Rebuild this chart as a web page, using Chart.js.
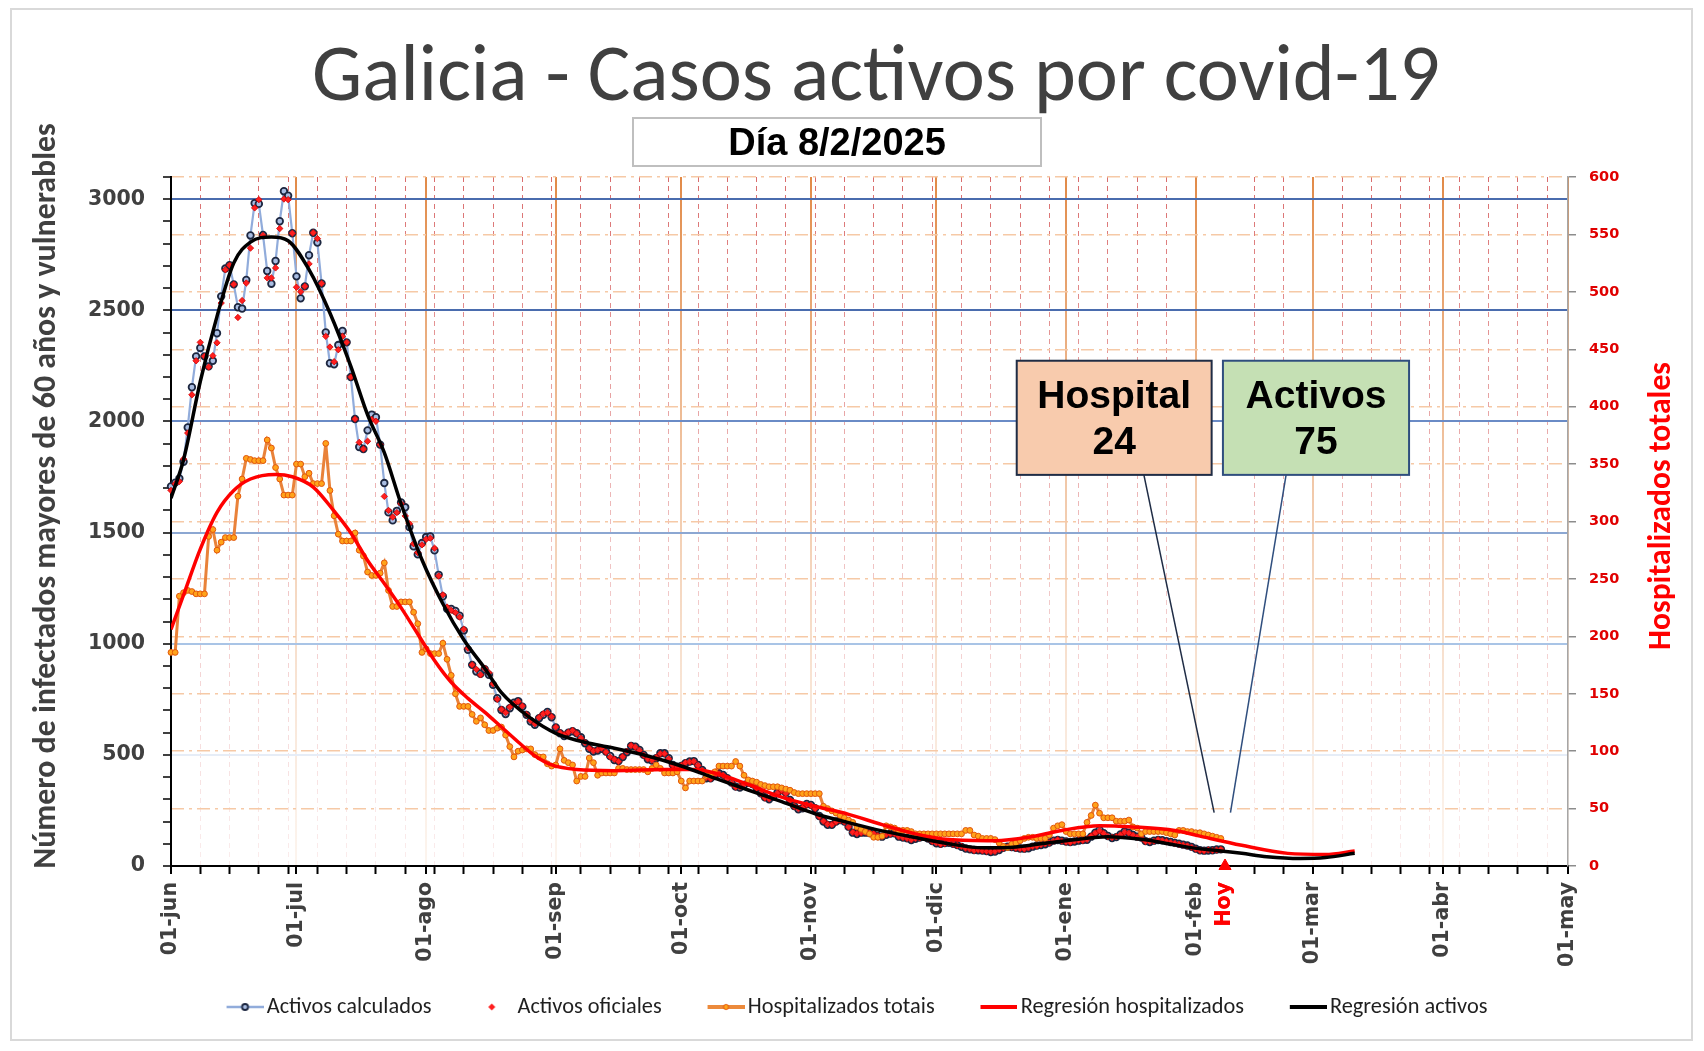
<!DOCTYPE html>
<html>
<head>
<meta charset="utf-8">
<title>Galicia - Casos activos por covid-19</title>
<script src="https://cdn.jsdelivr.net/npm/chart.js@4.4.1/dist/chart.umd.min.js"></script>
<style>
  html, body { margin: 0; padding: 0; background: #fff; }
  #wrap { width: 1704px; height: 1051px; }
</style>
</head>
<body>
<div id="wrap"><canvas id="grafico" width="1704" height="1051"></canvas></div>
<script>
// dias contados desde el 01-jun-2024
const mesesDias = [0, 30, 61, 92, 122, 153, 183, 214, 245, 273, 304, 334];
const mesesEtiquetas = ['01-jun', '01-jul', '01-ago', '01-sep', '01-oct', '01-nov', '01-dic', '01-ene', '01-feb', '01-mar', '01-abr', '01-may'];
const diaHoy = 252;
const hospitalHoy = 24;
const activosHoy = 75;
const pasoIzq = 100, maxIzq = 3100;
const pasoDer = 50, maxDer = 600;

const titulo = 'Galicia - Casos activos por covid-19';
const subtitulo = 'Día 8/2/2025';
const tituloIzq = 'Número de infectados mayores de 60 años y vulnerables';
const tituloDer = 'Hospitalizados totales';

// un valor por dia desde el 01-jun
const activosCalculados = [
  1708, 1725, 1744, 1819, 1973, 2154, 2293, 2331, 2293, 2248,
  2273, 2397, 2563, 2688, 2703, 2617, 2514, 2508, 2637, 2837,
  2982, 2979, 2839, 2677, 2620, 2722, 2901, 3036, 3016, 2847,
  2653, 2554, 2608, 2748, 2849, 2805, 2621, 2401, 2262, 2257,
  2344, 2407, 2356, 2200, 2011, 1885, 1876, 1960, 2031, 2019,
  1896, 1723, 1591, 1555, 1598, 1636, 1614, 1525, 1438, 1402,
  1453, 1480, 1483, 1420, 1310, 1213, 1157, 1157, 1148, 1126,
  1060, 973, 905, 875, 865, 885, 860, 815, 755, 702,
  684, 710, 735, 742, 717, 680, 650, 635, 665, 680,
  693, 669, 623, 597, 585, 600, 606, 597, 579, 552,
  527, 515, 520, 527, 515, 495, 477, 472, 490, 512,
  540, 537, 522, 500, 480, 474, 485, 507, 507, 485,
  455, 447, 450, 462, 470, 472, 455, 432, 395, 395,
  405, 417, 410, 395, 375, 357, 353, 365, 375, 369,
  353, 327, 309, 300, 312, 330, 342, 330, 297, 270,
  255, 260, 279, 275, 260, 225, 200, 185, 185, 200,
  207, 200, 177, 150, 144, 150, 150, 148, 142, 135,
  132, 140, 146, 147, 132, 128, 125, 117, 122, 128,
  132, 124, 112, 102, 100, 103, 104, 100, 94, 86,
  79, 75, 72, 71, 70, 67, 63, 65, 72, 82,
  87, 85, 82, 79, 78, 80, 87, 92, 94, 98,
  106, 114, 117, 114, 110, 108, 110, 114, 117, 118,
  132, 150, 162, 148, 135, 126, 130, 142, 155, 150,
  140, 132, 128, 112, 108, 114, 117, 116, 112, 108,
  104, 100, 96, 92, 86, 78, 71, 69, 70, 71,
  74, 75
];
const activosOficiales = [
  1690, 1720, 1730, 1831, 1948, 2120, 2273, 2356, 2293, 2245,
  2296, 2354, 2533, 2683, 2703, 2617, 2468, 2544, 2623, 2780,
  2961, 2998, 2837, 2646, 2646, 2691, 2868, 3001, 2998, 2847,
  2604, 2584, 2608, 2709, 2849, 2823, 2621, 2383, 2335, 2269,
  2323, 2383, 2356, 2200, 2011, 1906, 1876, 1911, 2009, 2001,
  1896, 1663, 1600, 1570, 1590, 1630, 1575, 1540, 1450, 1410,
  1445, 1470, 1475, 1430, 1305, 1220, 1165, 1150, 1140, 1120,
  1065, 980, 905, 885, 860, 890, 870, 820, 750, 705,
  690, 715, 730, 740, 720, 682, 655, 640, 668, 685,
  690, 672, 625, 600, 590, 602, 610, 595, 575, 555,
  530, 518, 522, 530, 512, 490, 480, 470, 492, 515,
  542, 535, 520, 498, 482, 476, 488, 505, 505, 482,
  452, 445, 452, 465, 468, 470, 452, 430, 398, 392,
  408, 415, 408, 392, 372, 355, 356, 368, 372, 366,
  350, 325, 306, 302, 315, 328, 340, 326, 295, 268,
  258, 262, 276, 272, 258, 222, 202, 188, 186, 198,
  205, 198, 175, 152, 146, 148, 152, 150, 146, 136,
  134, 142, 144, 145, 133, 128, 124, 118, 124, 126,
  130, 122, 110, 104, 98, 101, 105, 98, 92, 88,
  80, 76, 70, 72, 68, 66, 64, 66, 74, 80,
  86, 84, 80, 78, 76, 82, 88, 90, 96, 100,
  104, 112, 118, 112, 108, 106, 112, 116, 115, 120,
  135, 148, 158, 146, 132, 128, 132, 140, 152, 148,
  138, 130, 126, 110, 110, 112, 118, 114, 110, 106,
  102, 98, 94, 90, 84, 76, 70, 68, 72, 70,
  72, 75
];
const hospitalizados = [
  186, 186, 235, 238, 240, 239, 237, 237, 237, 287,
  293, 275, 282, 286, 286, 286, 322, 337, 355, 354,
  353, 353, 353, 371, 364, 347, 337, 323, 323, 323,
  350, 350, 339, 342, 333, 333, 333, 368, 327, 305,
  289, 283, 283, 283, 290, 275, 270, 256, 253, 253,
  255, 264, 240, 226, 226, 230, 230, 230, 221, 211,
  186, 189, 185, 185, 185, 194, 180, 166, 150, 139,
  139, 139, 132, 126, 129, 123, 118, 118, 120, 121,
  114, 104, 95, 100, 101, 102, 102, 97, 95, 95,
  89, 87, 88, 102, 92, 90, 88, 74, 78, 78,
  94, 90, 79, 81, 81, 81, 81, 85, 85, 84,
  84, 84, 84, 84, 82, 85, 88, 85, 81, 81,
  81, 82, 74, 68, 74, 74, 74, 74, 79, 79,
  82, 87, 87, 87, 87, 91, 87, 79, 75, 74,
  73, 71, 70, 69, 69, 69, 68, 67, 66, 64,
  63, 63, 63, 63, 63, 63, 52, 50, 48, 46,
  44, 42, 40, 38, 34, 32, 30, 28, 25, 25,
  26, 35, 34, 33, 31, 31, 31, 30, 28, 28,
  28, 28, 28, 28, 28, 28, 28, 28, 28, 28,
  31, 31, 27, 26, 24, 24, 24, 23, 20, 17,
  16, 19, 20, 22, 24, 25, 25, 24, 24, 24,
  27, 33, 35, 36, 30, 28, 28, 28, 28, 38,
  44, 53, 46, 42, 42, 42, 39, 39, 39, 40,
  34, 33, 28, 30, 30, 30, 30, 30, 29, 28,
  27, 31, 31, 30, 30, 29, 29, 28, 27, 26,
  25, 24
];
const regActDias = [0, 3, 7, 11, 15, 19, 24, 28, 33, 38, 43, 47, 51, 55, 60, 65, 70, 75, 79, 86, 92, 100, 106, 114, 122, 130, 138, 146, 154, 162, 170, 178, 186, 194, 202, 210, 216, 224, 232, 240, 246, 251, 256, 262, 270, 276, 283];
const regActValores = [1655, 1828, 2180, 2473, 2713, 2807, 2830, 2813, 2683, 2488, 2248, 2030, 1860, 1630, 1378, 1180, 1018, 890, 780, 665, 597, 552, 530, 495, 450, 395, 342, 290, 235, 195, 158, 128, 100, 82, 86, 105, 118, 132, 120, 95, 77, 68, 57, 42, 34, 38, 57];
const regHospDias = [0, 3, 7, 11, 15, 19, 25, 29, 34, 39, 43, 47, 51, 55, 59, 63, 67, 71, 75, 79, 83, 87, 91, 97, 106, 118, 125, 130, 138, 146, 154, 162, 170, 178, 186, 197, 205, 213, 222, 230, 240, 246, 256, 267, 276, 283];
const regHospValores = [206, 236, 276, 308, 327, 337, 341, 339, 330, 309, 290, 266, 246, 225, 202, 179, 160, 146, 134, 121, 108, 96, 88, 84, 83, 84, 84, 81, 71, 60, 52, 45, 36, 28, 23, 22, 25, 31, 35, 34, 31, 26, 18, 11, 10, 13];

// cajas de llamada, en unidades de los ejes x / y2
const llamadas = [
  {lineas: ['Hospital', String(hospitalHoy)], fondo: '#f8cbad', borde: '#1f2c45', desde: 202.2, hasta: 248.8, salida: 232.6, punta: 249.4},
  {lineas: ['Activos', String(activosHoy)], fondo: '#c5e0b4', borde: '#2f4e7e', desde: 251.5, hasta: 296, salida: 266.6, punta: 253.3}
];
const cajaArriba = 440, cajaAbajo = 340.6, puntaValor = 46.4;

const fuenteEjes = '"DejaVu Sans", Verdana, sans-serif';
const fuenteTexto = 'Carlito, Lato, sans-serif';
const fuenteCajas = '"Liberation Sans", Arial, sans-serif';

const medidor = document.createElement('canvas').getContext('2d');
function ajustar(textos, peso, familia, ancho) {
  medidor.font = peso + ' 100px ' + familia;
  let total = 0;
  textos.forEach(t => total += medidor.measureText(t).width);
  return 100 * ancho / total;
}

const tamTitulo = ajustar([titulo], '400', fuenteTexto, 1128);
const tamIzq = ajustar([tituloIzq], '700', fuenteTexto, 746);
const tamDer = ajustar([tituloDer], '700', fuenteTexto, 288);

function serie(valores) {
  return valores.map((v, i) => ({x: i, y: v}));
}
function pares(dias, valores) {
  return dias.map((d, i) => ({x: d, y: valores[i]}));
}

const semanas = [];
for (let d = 7; d < 334; d += 7) {
  if (!mesesDias.includes(d)) semanas.push(d);
}
const ticksX = mesesDias.concat(semanas, [diaHoy]).sort((a, b) => a - b);
const etiquetasX = {};
mesesDias.forEach((d, i) => etiquetasX[d] = mesesEtiquetas[i]);
etiquetasX[diaHoy] = 'Hoy';

const ticksIzq = [];
for (let v = 0; v <= maxIzq; v += pasoIzq) ticksIzq.push(v);
const ticksDer = [];
for (let v = 0; v <= maxDer; v += pasoDer) ticksDer.push(v);

const azules = {500: '#e6edf7', 1000: '#a9c4e6', 1500: '#8ca7d2', 2000: '#6a8bc6', 2500: '#4a6cae', 3000: '#4a6cae'};

function degradado(chart, arriba, abajo) {
  const area = chart.chartArea;
  if (!area) return arriba;
  const g = chart.ctx.createLinearGradient(0, area.top, 0, area.bottom);
  g.addColorStop(0, arriba);
  g.addColorStop(1, abajo);
  return g;
}

const nombres = ['Activos calculados', 'Activos oficiales', 'Hospitalizados totais', 'Regresión hospitalizados', 'Regresión activos'];
const tamLeyenda = ajustar(nombres, '400', fuenteTexto, 877);
const relleno = 21 - tamLeyenda / 2;
const altoLeyenda = tamLeyenda + relleno + 10;
// caja de la leyenda y ancho de la muestra para dejar el texto pegado a la linea
const cajaLeyenda = 86 - relleno - tamLeyenda / 2;
const anchoMuestra = Math.round(cajaLeyenda + tamLeyenda - 6);
const largoLinea = 37;
const desplazaLeyenda = 13;

// muestras de la leyenda: linea con marcador a la derecha
function muestra(linea, grosor, marcador) {
  const c = document.createElement('canvas');
  c.width = anchoMuestra; c.height = 16;
  const g = c.getContext('2d');
  const fin = anchoMuestra, ini = anchoMuestra - largoLinea, medio = anchoMuestra - largoLinea / 2;
  if (linea) {
    g.strokeStyle = linea; g.lineWidth = grosor;
    g.beginPath(); g.moveTo(ini, 8); g.lineTo(fin, 8); g.stroke();
  }
  if (marcador === 'circulo') {
    g.fillStyle = '#a9bde2'; g.strokeStyle = '#1d2740'; g.lineWidth = 1.8;
    g.beginPath(); g.arc(medio, 8, 3, 0, Math.PI * 2); g.fill(); g.stroke();
  } else if (marcador === 'rombo') {
    g.fillStyle = '#ff1f1f';
    g.beginPath(); g.moveTo(medio - 4, 4.5); g.lineTo(medio - 0.5, 8); g.lineTo(medio - 4, 11.5); g.lineTo(medio - 7.5, 8); g.closePath(); g.fill();
  } else if (marcador === 'naranja') {
    g.fillStyle = '#ffa31a'; g.strokeStyle = '#e2560c'; g.lineWidth = 1;
    g.beginPath(); g.arc(medio, 8, 2.6, 0, Math.PI * 2); g.fill(); g.stroke();
  }
  return c;
}
const muestras = [
  muestra('#91acdb', 2.5, 'circulo'),
  muestra(null, 0, 'rombo'),
  muestra('#ec8a3c', 4, 'naranja'),
  muestra('#ff0000', 4, null),
  muestra('#000000', 4, null)
];

const decorado = {
  id: 'decorado',
  afterLayout(chart) {
    // la leyenda del original queda algo a la izquierda del centro
    if (chart.legend) {
      chart.legend.left -= desplazaLeyenda;
      chart.legend.right -= desplazaLeyenda;
    }
  },
  beforeDraw(chart) {
    const ctx = chart.ctx;
    ctx.save();
    ctx.fillStyle = '#ffffff';
    ctx.fillRect(0, 0, chart.width, chart.height);
    ctx.strokeStyle = '#d9d9d9';
    ctx.lineWidth = 2;
    ctx.strokeRect(11, 9, 1681, 1031);
    ctx.restore();
  },
  afterDraw(chart) {
    const ctx = chart.ctx;
    const {x, y2} = chart.scales;
    ctx.save();

    ctx.fillStyle = '#404040';
    ctx.textAlign = 'center';
    ctx.textBaseline = 'alphabetic';
    ctx.font = '400 ' + tamTitulo + 'px ' + fuenteTexto;
    ctx.fillText(titulo, 876, 100);

    ctx.fillStyle = '#ffffff';
    ctx.fillRect(633, 118, 408, 48);
    ctx.strokeStyle = '#bfbfbf';
    ctx.lineWidth = 2;
    ctx.strokeRect(633, 118, 408, 48);
    ctx.fillStyle = '#000000';
    ctx.font = 'bold 38px ' + fuenteCajas;
    ctx.fillText(subtitulo, 837, 155);

    ctx.textBaseline = 'middle';
    ctx.save();
    ctx.translate(47, 496);
    ctx.rotate(-Math.PI / 2);
    ctx.fillStyle = '#404040';
    ctx.font = '700 ' + tamIzq + 'px ' + fuenteTexto;
    ctx.fillText(tituloIzq, 0, 0);
    ctx.restore();
    ctx.save();
    ctx.translate(1662, 506);
    ctx.rotate(-Math.PI / 2);
    ctx.fillStyle = '#ff0000';
    ctx.font = '700 ' + tamDer + 'px ' + fuenteTexto;
    ctx.fillText(tituloDer, 0, 0);
    ctx.restore();

    const top = y2.getPixelForValue(cajaArriba);
    const bottom = y2.getPixelForValue(cajaAbajo);
    const yPunta = y2.getPixelForValue(puntaValor);
    llamadas.forEach(c => {
      ctx.strokeStyle = c.borde;
      ctx.lineWidth = 1.5;
      ctx.beginPath();
      ctx.moveTo(x.getPixelForValue(c.salida), bottom);
      ctx.lineTo(x.getPixelForValue(c.punta), yPunta);
      ctx.stroke();
    });
    ctx.textBaseline = 'alphabetic';
    llamadas.forEach(c => {
      const left = x.getPixelForValue(c.desde);
      const right = x.getPixelForValue(c.hasta);
      ctx.fillStyle = c.fondo;
      ctx.fillRect(left, top, right - left, bottom - top);
      ctx.strokeStyle = c.borde;
      ctx.lineWidth = 2;
      ctx.strokeRect(left, top, right - left, bottom - top);
      ctx.fillStyle = '#000000';
      ctx.font = 'bold 39px ' + fuenteCajas;
      ctx.fillText(c.lineas[0], (left + right) / 2, top + 47);
      ctx.fillText(c.lineas[1], (left + right) / 2, top + 93);
    });
    ctx.restore();
  }
};

new Chart(document.getElementById('grafico'), {
  type: 'line',
  data: {
    datasets: [{
      label: nombres[0],
      data: serie(activosCalculados),
      yAxisID: 'y',
      order: 5,
      clip: 8,
      borderColor: '#91acdb',
      borderWidth: 2.2,
      pointRadius: 3.3,
      pointBorderWidth: 1.8,
      pointBackgroundColor: '#a9bde2',
      pointBorderColor: '#1d2740'
    }, {
      label: nombres[1],
      data: serie(activosOficiales),
      yAxisID: 'y',
      order: 4,
      clip: 8,
      showLine: false,
      pointStyle: 'rectRot',
      pointRadius: 3.2,
      pointBorderWidth: 0.8,
      pointBackgroundColor: '#ff1f1f',
      pointBorderColor: '#d40000'
    }, {
      label: nombres[2],
      data: serie(hospitalizados),
      yAxisID: 'y2',
      order: 3,
      clip: 8,
      borderColor: '#e9823a',
      borderWidth: 3,
      pointRadius: 2.9,
      pointBorderWidth: 1,
      pointBackgroundColor: '#ffa31a',
      pointBorderColor: '#e2560c'
    }, {
      label: nombres[3],
      data: pares(regHospDias, regHospValores),
      yAxisID: 'y2',
      order: 2,
      borderColor: '#ff0000',
      borderWidth: 3.5,
      pointRadius: 0,
      cubicInterpolationMode: 'monotone'
    }, {
      label: nombres[4],
      data: pares(regActDias, regActValores),
      yAxisID: 'y',
      order: 1,
      borderColor: '#000000',
      borderWidth: 3.5,
      pointRadius: 0,
      cubicInterpolationMode: 'monotone'
    }, {
      label: 'Hoy',
      data: [{x: diaHoy, y: 0}],
      yAxisID: 'y',
      order: 0,
      clip: false,
      showLine: false,
      pointStyle: 'triangle',
      pointRadius: 7,
      pointBackgroundColor: '#ff0000',
      pointBorderColor: '#ff0000'
    }]
  },
  options: {
    responsive: false,
    animation: false,
    devicePixelRatio: 1,
    events: [],
    layout: {padding: {left: 14, right: 14, top: 177, bottom: 65 - altoLeyenda}},
    scales: {
      x: {
        type: 'linear',
        min: 0,
        max: 334,
        afterBuildTicks: s => { s.ticks = ticksX.map(v => ({value: v})); },
        afterFit: s => { s.height = 120; },
        ticks: {
          autoSkip: false,
          minRotation: 90,
          maxRotation: 90,
          padding: 8,
          color: c => (c.tick && c.tick.value === diaHoy) ? '#ff0000' : '#404040',
          font: {family: fuenteEjes, size: 20.5, weight: 'bold'},
          callback: v => etiquetasX[v] || ''
        },
        grid: {
          color: c => {
            if (c.type !== 'tick' || c.tick.value === diaHoy) return 'rgba(0,0,0,0)';
            if (mesesDias.includes(c.tick.value)) return degradado(c.chart, 'rgba(224,132,62,0.95)', 'rgba(244,214,190,0.25)');
            return degradado(c.chart, 'rgba(205,60,60,0.75)', 'rgba(236,180,180,0.25)');
          },
          lineWidth: c => (c.tick && mesesDias.includes(c.tick.value)) ? 2 : 1,
          tickLength: 8,
          tickWidth: 2,
          tickColor: c => (c.tick && c.tick.value === diaHoy) ? 'rgba(0,0,0,0)' : '#000000'
        },
        border: {
          color: '#000000',
          width: 2,
          dash: c => (c.type === 'tick' && !mesesDias.includes(c.tick.value)) ? [5, 4] : []
        }
      },
      y: {
        position: 'left',
        min: 0,
        max: maxIzq,
        afterBuildTicks: s => { s.ticks = ticksIzq.map(v => ({value: v})); },
        afterFit: s => { s.width = 157; },
        ticks: {
          autoSkip: false,
          padding: 18,
          color: '#404040',
          font: {family: fuenteEjes, size: 20.5, weight: 'bold'},
          callback: v => v % 500 === 0 ? String(v) : ''
        },
        grid: {
          color: c => (c.tick && azules[c.tick.value]) || 'rgba(0,0,0,0)',
          lineWidth: 2,
          tickLength: 8,
          tickWidth: 1.5,
          tickColor: '#000000'
        },
        border: {color: '#000000', width: 2}
      },
      y2: {
        position: 'right',
        min: 0,
        max: maxDer,
        afterBuildTicks: s => { s.ticks = ticksDer.map(v => ({value: v})); },
        afterFit: s => { s.width = 122; },
        ticks: {
          autoSkip: false,
          padding: 13,
          color: '#e00000',
          font: {family: fuenteEjes, size: 14.5, weight: 'bold'},
          callback: v => String(v)
        },
        grid: {
          color: c => (c.tick && c.tick.value > 0) ? '#f6c9a6' : 'rgba(0,0,0,0)',
          lineWidth: 1.5,
          tickLength: 8,
          tickWidth: 1.5,
          tickColor: '#8c8c8c'
        },
        border: {
          color: '#a6a6a6',
          width: 1.5,
          dash: c => c.type === 'tick' ? [13, 5, 3, 5] : []
        }
      }
    },
    plugins: {
      tooltip: {enabled: false},
      legend: {
        position: 'bottom',
        labels: {
          usePointStyle: true,
          pointStyleWidth: cajaLeyenda,
          padding: relleno,
          color: '#1f1f1f',
          font: {family: fuenteTexto, size: tamLeyenda},
          generateLabels: chart => chart.data.datasets.slice(0, 5).map((ds, i) => ({
            text: ds.label,
            pointStyle: muestras[i],
            datasetIndex: i,
            fontColor: '#1f1f1f',
            fillStyle: 'rgba(0,0,0,0)',
            strokeStyle: 'rgba(0,0,0,0)',
            lineWidth: 0,
            hidden: false
          }))
        }
      }
    }
  },
  plugins: [decorado]
});
</script>
</body>
</html>
